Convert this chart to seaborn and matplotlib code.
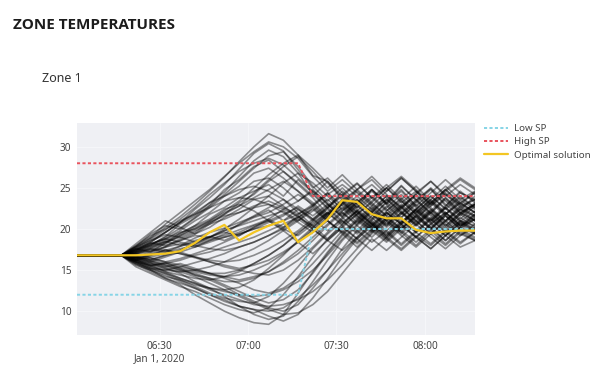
import numpy as np
import pandas as pd
import matplotlib
matplotlib.use("Agg")
import matplotlib.pyplot as plt
from matplotlib.lines import Line2D
import seaborn as sns

# ---------------- data ----------------
times = pd.date_range("2020-01-01 06:02", periods=28, freq="5min")

low_sp = [12, 12, 12, 12, 12, 12, 12, 12, 12, 12, 12, 12, 12, 12, 12, 12,
          20, 20, 20, 20, 20, 20, 20, 20, 20, 20, 20, 20]
high_sp = [28, 28, 28, 28, 28, 28, 28, 28, 28, 28, 28, 28, 28, 28, 28, 28,
           24, 24, 24, 24, 24, 24, 24, 24, 24, 24, 24, 24]
optimal = [16.8, 16.8, 16.8, 16.8, 16.8, 16.9, 17.0, 17.3, 18.3, 19.6, 20.5, 18.6,
           19.6, 20.4, 21.0, 18.4, 19.6, 21.2, 23.5, 23.3, 21.8, 21.3, 21.3, 19.9,
           19.5, 19.7, 19.8, 19.8]

run_01 = [16.8, 16.8, 16.8, 16.8, 17.8, 18.9, 20.2, 21.5, 23.0, 24.6, 26.3, 28.2, 30.0, 31.6, 30.8, 29.0, 26.5, 25.8, 24.0, 25.5, 23.8, 25.0, 23.2, 24.6, 22.8, 24.2, 23.0, 24.5]
run_02 = [16.8, 16.8, 16.8, 16.8, 17.5, 18.4, 19.6, 20.8, 22.4, 23.8, 25.4, 27.3, 29.2, 30.4, 29.5, 27.2, 25.0, 26.2, 24.4, 22.6, 24.8, 23.1, 25.2, 23.6, 21.9, 23.8, 22.3, 24.0]
run_03 = [16.8, 16.8, 16.8, 16.8, 18.0, 19.2, 20.0, 21.0, 21.8, 23.2, 24.5, 26.4, 28.3, 29.6, 28.8, 26.8, 24.2, 22.5, 24.6, 23.0, 21.2, 23.4, 25.3, 23.5, 24.9, 22.8, 24.6, 23.2]
run_04 = [16.8, 16.8, 16.8, 16.8, 17.2, 18.0, 19.1, 20.6, 21.6, 22.9, 24.8, 26.0, 27.6, 28.4, 27.0, 25.6, 24.0, 25.8, 23.5, 24.8, 26.0, 24.2, 22.4, 24.4, 25.8, 24.0, 25.4, 24.2]
run_05 = [16.8, 16.8, 16.8, 16.8, 17.9, 19.4, 20.4, 20.0, 21.3, 22.6, 24.0, 25.2, 26.8, 27.4, 26.2, 24.6, 22.8, 24.4, 22.2, 23.6, 21.8, 20.4, 22.6, 21.0, 23.2, 24.8, 23.0, 22.0]
run_06 = [16.8, 16.8, 16.8, 16.8, 17.4, 18.2, 18.8, 19.8, 21.0, 22.0, 23.4, 24.4, 25.8, 26.2, 25.0, 23.4, 24.8, 23.0, 21.5, 23.3, 22.0, 24.1, 22.7, 20.8, 22.4, 21.0, 22.8, 21.6]
run_07 = [16.8, 16.8, 16.8, 16.8, 17.6, 17.2, 18.3, 19.5, 20.4, 21.8, 22.6, 23.8, 24.6, 25.4, 24.0, 26.0, 24.4, 22.6, 24.2, 25.6, 23.8, 22.2, 23.6, 25.2, 23.4, 21.8, 23.5, 22.4]
run_08 = [16.8, 16.8, 16.8, 16.8, 18.2, 19.6, 21.0, 20.2, 19.4, 20.6, 21.8, 23.2, 24.2, 25.8, 27.0, 25.4, 23.8, 21.8, 23.4, 21.6, 20.2, 22.0, 20.6, 22.4, 24.0, 22.5, 20.9, 22.2]
run_09 = [16.8, 16.8, 16.8, 16.8, 17.0, 17.6, 18.4, 19.0, 19.8, 20.6, 21.2, 22.0, 22.8, 23.4, 22.6, 21.8, 22.8, 21.2, 22.6, 20.8, 22.4, 21.0, 19.6, 21.4, 20.0, 21.8, 20.4, 21.2]
run_10 = [16.8, 16.8, 16.8, 16.8, 16.4, 17.0, 17.8, 18.6, 19.4, 20.2, 21.4, 22.4, 23.6, 24.0, 22.8, 21.4, 20.4, 22.0, 23.6, 22.0, 20.6, 22.2, 23.8, 22.2, 20.8, 22.6, 21.2, 22.8]
run_11 = [16.8, 16.8, 16.8, 16.8, 17.3, 17.9, 18.5, 18.0, 18.9, 19.6, 20.1, 20.8, 21.5, 22.3, 21.0, 22.4, 21.2, 19.8, 21.2, 22.8, 21.4, 19.8, 21.4, 23.0, 21.6, 20.0, 21.8, 20.6]
run_12 = [16.8, 16.8, 16.8, 16.8, 16.6, 16.9, 17.4, 17.9, 18.6, 19.0, 19.8, 20.4, 21.0, 21.6, 22.2, 21.0, 22.6, 21.0, 19.4, 21.0, 19.6, 21.2, 22.8, 21.0, 19.4, 21.0, 22.4, 21.0]
run_13 = [16.8, 16.8, 16.8, 16.8, 17.6, 18.3, 18.0, 18.6, 19.2, 19.0, 19.8, 20.5, 21.4, 22.0, 23.0, 24.2, 23.0, 21.4, 23.0, 24.6, 23.0, 21.6, 23.0, 21.4, 22.8, 24.4, 22.8, 23.6]
run_14 = [16.8, 16.8, 16.8, 16.8, 16.2, 16.6, 17.0, 17.4, 18.2, 18.8, 19.2, 19.9, 20.5, 21.2, 20.2, 21.6, 20.0, 18.6, 20.2, 18.8, 20.4, 22.0, 20.6, 19.0, 20.6, 19.2, 20.8, 19.6]
run_15 = [16.8, 16.8, 16.8, 16.8, 17.1, 17.5, 17.2, 17.9, 18.4, 19.1, 18.6, 19.4, 20.0, 20.8, 21.6, 22.8, 21.6, 23.0, 21.4, 19.8, 21.6, 23.2, 21.8, 23.4, 21.8, 20.2, 21.8, 23.0]
run_16 = [16.8, 16.8, 16.8, 16.8, 17.8, 18.6, 19.3, 19.0, 18.4, 19.0, 19.6, 19.2, 20.2, 21.0, 21.8, 22.6, 21.2, 22.8, 24.2, 22.6, 24.0, 22.4, 20.8, 22.4, 24.0, 22.4, 23.8, 22.6]
run_17 = [16.8, 16.8, 16.8, 16.8, 16.9, 17.3, 17.8, 18.2, 17.8, 18.4, 19.0, 19.6, 20.4, 21.0, 20.0, 19.2, 20.6, 22.0, 20.4, 21.8, 23.2, 21.6, 20.0, 21.6, 20.0, 21.6, 20.2, 21.8]
run_18 = [16.8, 16.8, 16.8, 16.8, 16.4, 16.0, 16.6, 17.2, 17.8, 18.6, 19.4, 20.6, 21.6, 22.6, 23.6, 22.4, 21.0, 22.4, 20.8, 22.2, 20.6, 19.2, 20.8, 22.4, 21.0, 22.6, 21.0, 20.4]
run_19 = [16.8, 16.8, 16.8, 16.8, 16.0, 15.6, 15.8, 16.2, 16.8, 17.2, 17.8, 18.4, 19.0, 19.8, 20.6, 21.4, 22.4, 21.0, 19.6, 21.2, 19.8, 18.4, 20.0, 21.6, 20.0, 18.6, 20.2, 19.4]
run_20 = [16.8, 16.8, 16.8, 16.8, 15.8, 15.2, 15.0, 15.4, 15.9, 16.4, 17.0, 17.8, 18.4, 19.2, 20.0, 21.2, 20.0, 21.6, 23.0, 21.4, 19.8, 21.4, 20.0, 21.6, 23.2, 21.6, 20.0, 21.2]
run_21 = [16.8, 16.8, 16.8, 16.8, 16.2, 15.4, 14.8, 14.4, 14.0, 13.8, 14.2, 14.8, 15.8, 16.8, 18.0, 19.6, 20.8, 22.0, 20.6, 22.2, 20.8, 19.4, 21.0, 19.6, 18.2, 19.8, 21.4, 20.2]
run_22 = [16.8, 16.8, 16.8, 16.8, 15.6, 15.0, 14.2, 13.8, 13.2, 12.8, 12.6, 12.9, 13.8, 15.2, 16.8, 18.6, 20.2, 21.8, 23.2, 21.6, 20.0, 21.8, 23.4, 21.8, 20.2, 21.8, 23.2, 22.0]
run_23 = [16.8, 16.8, 16.8, 16.8, 16.0, 15.2, 14.6, 13.8, 13.0, 12.2, 11.6, 11.2, 11.0, 11.8, 13.4, 15.4, 17.6, 19.4, 21.0, 19.6, 21.2, 22.8, 21.2, 19.6, 21.2, 19.6, 21.0, 20.0]
run_24 = [16.8, 16.8, 16.8, 16.8, 15.4, 14.6, 13.8, 13.0, 12.4, 11.6, 10.8, 10.2, 9.8, 10.4, 12.0, 14.2, 16.6, 18.8, 20.6, 22.2, 20.6, 19.0, 20.6, 22.2, 20.6, 22.0, 20.4, 21.4]
run_25 = [16.8, 16.8, 16.8, 16.8, 16.3, 15.8, 15.2, 14.6, 13.6, 12.8, 11.8, 10.6, 9.6, 9.0, 9.4, 11.2, 13.6, 16.2, 18.6, 20.4, 19.0, 20.8, 19.2, 17.8, 19.4, 21.0, 19.4, 18.6]
run_26 = [16.8, 16.8, 16.8, 16.8, 15.9, 15.0, 14.0, 13.2, 12.0, 11.0, 10.0, 9.2, 8.6, 8.4, 9.6, 12.2, 14.8, 17.2, 19.4, 17.8, 19.6, 21.2, 19.6, 18.0, 19.8, 18.2, 19.8, 18.8]
run_27 = [16.8, 16.8, 16.8, 16.8, 16.5, 16.0, 15.6, 15.0, 14.6, 14.0, 13.2, 12.4, 11.6, 11.0, 11.4, 12.6, 14.6, 17.0, 19.2, 21.0, 22.6, 21.0, 22.6, 24.0, 22.4, 20.8, 22.4, 21.6]
run_28 = [16.8, 16.8, 16.8, 16.8, 16.1, 15.5, 15.9, 15.2, 14.4, 13.8, 13.0, 12.0, 11.2, 10.4, 10.0, 10.8, 12.8, 15.0, 17.6, 19.8, 18.4, 19.8, 18.2, 19.8, 21.4, 19.8, 18.4, 19.6]
run_29 = [16.8, 16.8, 16.8, 16.8, 16.4, 15.9, 15.4, 15.8, 15.2, 14.6, 14.0, 13.4, 12.6, 12.2, 12.8, 14.0, 15.8, 17.8, 19.8, 18.4, 20.0, 18.6, 20.2, 21.8, 20.2, 18.6, 20.2, 21.2]
run_30 = [16.8, 16.8, 16.8, 16.8, 15.7, 14.8, 14.0, 13.4, 12.8, 12.0, 11.4, 10.6, 10.2, 9.4, 8.8, 9.6, 11.6, 14.0, 16.6, 18.8, 20.4, 18.8, 17.4, 19.0, 17.6, 19.2, 17.8, 18.6]
run_31 = [16.8, 16.8, 16.8, 16.8, 16.6, 16.3, 16.8, 17.2, 16.6, 16.0, 15.4, 15.0, 14.6, 14.4, 15.0, 16.2, 17.8, 19.6, 21.4, 23.0, 24.6, 23.0, 24.6, 22.8, 24.4, 26.0, 24.4, 23.6]
run_32 = [16.8, 16.8, 16.8, 16.8, 16.2, 16.8, 17.5, 17.0, 16.5, 16.0, 15.6, 15.2, 15.6, 16.2, 17.2, 18.4, 19.8, 21.4, 23.2, 24.8, 23.2, 25.0, 26.4, 24.8, 23.2, 24.8, 23.2, 24.4]
run_33 = [16.8, 16.8, 16.8, 16.8, 17.0, 16.5, 16.0, 15.6, 15.0, 14.6, 14.2, 13.8, 14.2, 14.8, 15.8, 17.0, 18.6, 20.4, 22.0, 20.4, 22.0, 23.6, 22.0, 20.4, 22.0, 23.6, 22.0, 23.0]
run_34 = [16.8, 16.8, 16.8, 16.8, 17.4, 18.4, 19.6, 20.8, 22.0, 23.2, 24.0, 24.8, 25.2, 24.6, 23.6, 22.0, 20.4, 18.8, 20.4, 18.8, 17.4, 19.0, 20.6, 19.0, 17.6, 19.2, 20.6, 19.4]
run_35 = [16.8, 16.8, 16.8, 16.8, 17.2, 17.8, 18.6, 19.4, 20.4, 21.2, 22.4, 23.0, 22.2, 21.0, 19.8, 18.4, 17.0, 18.6, 17.4, 19.0, 20.6, 19.0, 17.6, 19.2, 18.0, 19.6, 21.0, 19.8]
run_36 = [16.8, 16.8, 16.8, 16.8, 16.6, 17.2, 17.9, 18.8, 19.6, 20.8, 21.8, 22.8, 24.4, 26.0, 27.6, 28.8, 27.0, 25.0, 26.6, 24.8, 26.4, 24.6, 26.2, 24.6, 23.0, 24.8, 26.2, 25.0]
run_37 = [16.8, 16.8, 16.8, 16.8, 17.3, 18.1, 19.0, 20.1, 21.4, 22.8, 24.2, 25.8, 27.4, 28.9, 29.4, 27.6, 25.2, 23.4, 25.0, 23.2, 24.8, 23.0, 21.4, 23.2, 24.8, 23.0, 21.6, 23.0]
run_38 = [16.8, 16.8, 16.8, 16.8, 17.7, 18.8, 19.9, 21.2, 22.6, 24.2, 25.6, 27.0, 28.0, 28.6, 27.8, 26.2, 24.6, 23.0, 21.6, 23.2, 24.8, 23.2, 24.8, 22.8, 21.2, 22.8, 24.4, 23.4]
run_39 = [16.8, 16.8, 16.8, 16.8, 17.0, 17.4, 18.2, 19.2, 20.2, 21.0, 22.2, 23.4, 25.0, 26.6, 28.0, 29.0, 27.4, 25.6, 23.8, 22.2, 23.8, 25.4, 23.6, 22.0, 23.6, 25.2, 23.6, 24.6]
run_40 = [16.8, 16.8, 16.8, 16.8, 16.6, 16.2, 16.8, 17.4, 18.2, 19.0, 20.0, 21.2, 22.6, 24.0, 25.6, 26.8, 25.6, 24.0, 22.4, 24.0, 25.4, 23.8, 22.2, 20.6, 22.2, 23.8, 22.0, 21.0]
run_41 = [16.8, 16.8, 16.8, 16.8, 17.5, 18.0, 18.8, 19.6, 20.0, 20.8, 21.6, 22.0, 22.6, 23.0, 22.4, 21.6, 20.2, 21.8, 23.4, 22.0, 20.4, 22.0, 20.6, 22.0, 23.6, 22.0, 20.6, 21.8]
run_42 = [16.8, 16.8, 16.8, 16.8, 16.4, 16.8, 17.2, 17.6, 18.0, 18.6, 19.0, 19.4, 20.0, 20.4, 21.0, 21.8, 23.0, 24.4, 22.8, 21.2, 22.8, 21.2, 22.8, 24.2, 22.6, 21.0, 22.6, 21.4]
run_43 = [16.8, 16.8, 16.8, 16.8, 16.6, 16.4, 16.0, 16.4, 17.0, 17.6, 18.4, 19.2, 20.2, 21.2, 22.4, 23.4, 24.6, 23.2, 21.8, 23.4, 21.8, 20.2, 21.8, 23.4, 25.0, 23.4, 21.8, 23.2]
run_44 = [16.8, 16.8, 16.8, 16.8, 16.0, 15.4, 15.0, 14.8, 15.0, 15.4, 16.0, 16.8, 17.6, 18.6, 19.8, 21.0, 22.2, 23.6, 22.0, 20.6, 22.2, 23.6, 22.0, 20.4, 22.0, 20.4, 22.0, 23.0]
run_45 = [16.8, 16.8, 16.8, 16.8, 16.2, 15.8, 15.4, 15.0, 14.4, 14.0, 13.6, 13.6, 14.0, 14.8, 16.0, 17.4, 19.0, 20.6, 22.2, 23.6, 22.0, 20.4, 22.0, 20.6, 22.2, 20.6, 19.2, 20.6]
run_46 = [16.8, 16.8, 16.8, 16.8, 15.8, 15.0, 14.4, 13.6, 12.8, 12.0, 11.2, 10.6, 10.2, 10.0, 10.4, 11.6, 13.2, 15.0, 17.0, 19.0, 20.8, 19.2, 20.8, 22.4, 20.8, 19.2, 20.8, 19.8]
run_47 = [16.8, 16.8, 16.8, 16.8, 16.3, 15.6, 14.8, 14.0, 13.4, 12.6, 12.0, 11.4, 10.8, 10.6, 10.8, 11.4, 12.4, 13.8, 15.6, 17.6, 19.4, 21.0, 19.4, 21.0, 19.4, 18.0, 19.6, 18.6]
run_48 = [16.8, 16.8, 16.8, 16.8, 16.0, 15.2, 14.6, 14.0, 13.4, 12.8, 12.4, 12.0, 11.8, 12.0, 12.6, 13.6, 15.0, 16.8, 18.8, 20.6, 22.2, 20.6, 22.0, 23.6, 22.0, 20.4, 22.0, 21.0]
run_49 = [16.8, 16.8, 16.8, 16.8, 17.2, 17.6, 17.4, 17.0, 16.6, 16.2, 16.0, 16.2, 16.8, 17.6, 18.6, 19.8, 21.2, 22.6, 24.0, 22.4, 21.0, 22.6, 24.2, 22.6, 21.0, 22.6, 24.0, 22.6]
run_50 = [16.8, 16.8, 16.8, 16.8, 16.5, 16.1, 15.6, 15.2, 14.8, 14.4, 14.2, 14.4, 15.0, 15.8, 17.0, 18.4, 20.0, 18.6, 20.2, 21.8, 20.2, 18.8, 20.4, 19.0, 20.6, 22.0, 20.4, 21.6]
run_51 = [16.8, 16.8, 16.8, 16.8, 17.4, 18.2, 18.8, 18.4, 18.0, 17.6, 17.4, 17.8, 18.4, 19.2, 20.2, 21.4, 22.8, 24.2, 25.4, 24.0, 22.4, 24.0, 22.6, 24.2, 25.8, 24.2, 22.6, 23.6]
run_52 = [16.8, 16.8, 16.8, 16.8, 17.6, 18.6, 19.6, 20.8, 21.8, 22.6, 23.4, 23.8, 23.6, 23.0, 22.0, 20.8, 19.6, 21.0, 19.6, 18.2, 19.8, 21.4, 19.8, 18.4, 20.0, 21.6, 20.0, 19.0]
run_53 = [16.8, 16.8, 16.8, 16.8, 16.2, 15.6, 15.2, 14.8, 14.2, 13.4, 12.6, 11.8, 11.0, 10.2, 9.6, 9.8, 10.8, 12.4, 14.6, 16.8, 18.8, 17.4, 19.0, 20.6, 19.0, 17.6, 19.2, 20.2]
run_54 = [16.8, 16.8, 16.8, 16.8, 17.1, 17.7, 18.4, 19.2, 20.0, 21.0, 22.0, 22.8, 23.8, 24.8, 25.8, 24.6, 23.2, 21.6, 23.2, 21.8, 23.4, 25.0, 23.4, 21.8, 23.4, 21.8, 23.2, 22.0]
run_55 = [16.8, 16.8, 16.8, 16.8, 16.6, 16.2, 15.8, 15.4, 15.0, 14.6, 14.6, 15.0, 15.8, 16.8, 18.0, 19.4, 21.0, 22.6, 21.0, 19.4, 21.0, 19.6, 18.0, 19.6, 21.2, 19.6, 18.2, 19.6]
run_56 = [16.8, 16.8, 16.8, 16.8, 17.9, 19.0, 20.6, 22.0, 23.4, 24.8, 26.4, 28.0, 29.4, 30.6, 30.0, 28.6, 26.4, 24.6, 26.0, 24.4, 22.8, 24.6, 26.2, 24.6, 23.0, 24.6, 26.0, 24.8]

runs = [run_01, run_02, run_03, run_04, run_05, run_06, run_07, run_08, run_09,
        run_10, run_11, run_12, run_13, run_14, run_15, run_16, run_17, run_18,
        run_19, run_20, run_21, run_22, run_23, run_24, run_25, run_26, run_27,
        run_28, run_29, run_30, run_31, run_32, run_33, run_34, run_35, run_36,
        run_37, run_38, run_39, run_40, run_41, run_42, run_43, run_44, run_45,
        run_46, run_47, run_48, run_49, run_50, run_51, run_52, run_53, run_54,
        run_55, run_56]

tick_times = ["2020-01-01 06:30", "2020-01-01 07:00", "2020-01-01 07:30", "2020-01-01 08:00"]
tick_labels = ["06:30\nJan 1, 2020", "07:00", "07:30", "08:00"]
y_ticks = [10, 15, 20, 25, 30]

# ---------------- frames ----------------
ens = pd.DataFrame({
    "time": np.tile(times, len(runs)),
    "temp": np.concatenate([np.asarray(r, dtype=float) for r in runs]),
    "run": np.repeat(np.arange(len(runs)), len(times)),
})
ref = pd.DataFrame({"time": times, "low": low_sp, "high": high_sp, "opt": optimal})

# ---------------- style ----------------
sns.set_theme(style="white")
plt.rcParams["font.family"] = ["Noto Sans", "DejaVu Sans"]

BG = "#eff0f4"
C_LOW = "#86d4e6"
C_HIGH = "#e9535d"
C_OPT = "#f3c623"
TXT = "#444444"
DOT = (0, (1.6, 1.2))

fig = plt.figure(figsize=(6.03, 3.82), dpi=100)
ax = fig.add_axes([77 / 603, 1 - 335 / 382, 398 / 603, 212 / 382])
ax.set_facecolor(BG)

sns.lineplot(data=ens, x="time", y="temp", units="run", estimator=None,
             color="black", alpha=0.42, linewidth=1.2, legend=False, ax=ax, zorder=2)
sns.lineplot(data=ref, x="time", y="low", color=C_LOW, linewidth=1.4, ax=ax, zorder=3)
sns.lineplot(data=ref, x="time", y="high", color=C_HIGH, linewidth=1.4, ax=ax, zorder=3)
sns.lineplot(data=ref, x="time", y="opt", color=C_OPT, linewidth=1.6, ax=ax, zorder=4)
for ln in ax.lines[-3:-1]:
    ln.set_linestyle(DOT)

ax.set_xlim(times[0], times[-1])
ax.set_ylim(7.1, 32.9)
ax.set_xticks(pd.to_datetime(tick_times))
ax.set_xticklabels(tick_labels)
ax.set_yticks(y_ticks)
ax.set_xlabel("")
ax.set_ylabel("")
ax.grid(True, color="#f7f8fa", linewidth=0.6)
ax.set_axisbelow(True)
for s in ax.spines.values():
    s.set_visible(False)
ax.tick_params(axis="both", length=0, labelsize=7.2, colors=TXT, pad=4)

# legend
handles = [
    Line2D([], [], color=C_LOW, linewidth=1.4, linestyle=DOT),
    Line2D([], [], color=C_HIGH, linewidth=1.4, linestyle=DOT),
    Line2D([], [], color=C_OPT, linewidth=1.6),
]
fig.legend(handles, ["Low SP", "High SP", "Optimal solution"],
           loc="upper left", bbox_to_anchor=(484 / 603, 1 - 124 / 382),
           frameon=False, fontsize=7, handlelength=2.5, labelspacing=0.45,
           handletextpad=0.6, labelcolor=TXT, borderaxespad=0, borderpad=0)

fig.text(13 / 603, 1 - 25 / 382, "ZONE TEMPERATURES", fontsize=11,
         fontweight="bold", family=["Open Sans", "DejaVu Sans"],
         color="#1c1c1c", va="center", ha="left")
fig.text(42 / 603, 1 - 78 / 382, "Zone 1", fontsize=9, color="#333333",
         va="center", ha="left")

fig.savefig("out.png", dpi=100, facecolor="white")
